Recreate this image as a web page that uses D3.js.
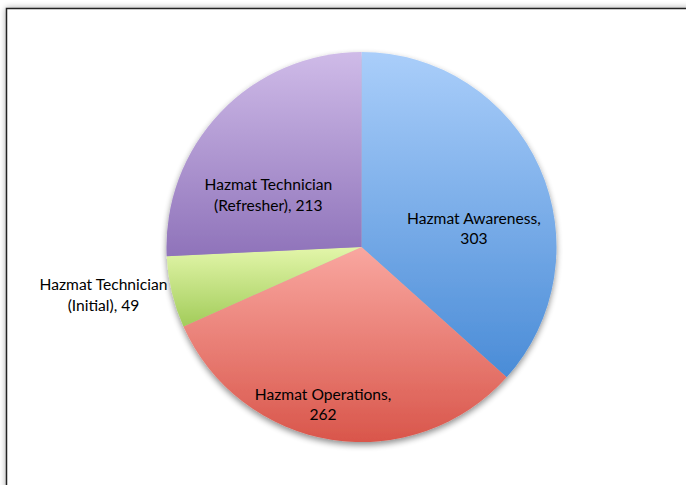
<!DOCTYPE html>
<html>
<head>
<meta charset="utf-8">
<script src="https://cdn.jsdelivr.net/npm/d3@7"></script>
<style>
  html, body { margin: 0; padding: 0; background: #fff; }
  svg { display: block; }
</style>
</head>
<body>
<div id="chart"></div>
<script>
const categories = ['Hazmat Awareness', 'Hazmat Operations', 'Hazmat Technician (Initial)', 'Hazmat Technician (Refresher)']
const values = [303, 262, 49, 213]
const labelLines = [
    ['Hazmat Awareness,', '303'],
    ['Hazmat Operations,', '262'],
    ['Hazmat Technician', '(Initial), 49'],
    ['Hazmat Technician', '(Refresher), 213'],
]

const WIDTH = 686
const HEIGHT = 485
const CX = 361.5
const CY = 247
const RADIUS = 195
const FONT = 'Lato, "Open Sans", sans-serif'
// light (top) -> dark (bottom) for each slice
const GRADIENTS = [
    ['#aacefa', '#4a8cd7'],
    ['#f9a7a0', '#d9564b'],
    ['#e3f6aa', '#a2cc5a'],
    ['#cfbbe8', '#8f73ba'],
]
// label placement: radius along mid-angle, then nudge
const LABEL_POS = [
    { r: 0.62, dx: 2, dy: 31 },
    { r: 0.84, dx: -13, dy: -4 },
    { r: 1.36, dx: 0, dy: -13 },
    { r: 0.66, dx: 0, dy: 37 },
]

const svg = d3.select('#chart')
    .append('svg')
    .attr('width', WIDTH)
    .attr('height', HEIGHT)

const defs = svg.append('defs')

const frameShadow = defs.append('filter')
    .attr('id', 'frameShadow')
    .attr('x', '-5%').attr('y', '-5%')
    .attr('width', '110%').attr('height', '110%')
frameShadow.append('feGaussianBlur')
    .attr('in', 'SourceAlpha')
    .attr('stdDeviation', 3)
frameShadow.append('feComponentTransfer')
    .append('feFuncA').attr('type', 'linear').attr('slope', 0.35)
const fm = frameShadow.append('feMerge')
fm.append('feMergeNode')
fm.append('feMergeNode').attr('in', 'SourceGraphic')

const pieShadow = defs.append('filter')
    .attr('id', 'pieShadow')
    .attr('x', '-10%').attr('y', '-10%')
    .attr('width', '120%').attr('height', '125%')
pieShadow.append('feGaussianBlur')
    .attr('in', 'SourceAlpha')
    .attr('stdDeviation', 3)
pieShadow.append('feOffset').attr('dx', 0).attr('dy', 3)
pieShadow.append('feComponentTransfer')
    .append('feFuncA').attr('type', 'linear').attr('slope', 0.45)
const pm = pieShadow.append('feMerge')
pm.append('feMergeNode')
pm.append('feMergeNode').attr('in', 'SourceGraphic')

GRADIENTS.forEach((g, i) => {
    const lg = defs.append('linearGradient')
        .attr('id', `grad${i}`)
        .attr('x1', 0).attr('y1', 0)
        .attr('x2', 0).attr('y2', 1)
    lg.append('stop').attr('offset', '0%').attr('stop-color', g[0])
    lg.append('stop').attr('offset', '100%').attr('stop-color', g[1])
})

/**
 * Frame
 */
svg.append('rect')
    .attr('x', 6.5)
    .attr('y', 8.5)
    .attr('width', WIDTH + 20)
    .attr('height', HEIGHT + 20)
    .attr('fill', '#fff')
    .attr('stroke', '#222')
    .attr('stroke-width', 1.5)
    .attr('filter', 'url(#frameShadow)')

/**
 * Pie
 */
const pie = d3.pie().sort(null).value(d => d)
const arcs = pie(values)
const arc = d3.arc().innerRadius(0).outerRadius(RADIUS)

const center = svg.append('g')
    .attr('transform', `translate(${CX}, ${CY})`)

center.append('g')
    .attr('filter', 'url(#pieShadow)')
    .selectAll('path')
    .data(arcs)
    .enter()
    .append('path')
    .attr('d', arc)
    .attr('fill', (d, i) => `url(#grad${i})`)

/**
 * Labels
 */
const labels = center.selectAll('text.label')
    .data(arcs)
    .enter()
    .append('text')
    .classed('label', true)
    .attr('text-anchor', 'middle')
    .attr('font-family', FONT)
    .attr('font-size', '15.6px')
    .attr('fill', '#000')
    .attr('transform', (d, i) => {
        const p = LABEL_POS[i]
        const la = d3.arc().innerRadius(RADIUS * p.r).outerRadius(RADIUS * p.r)
        const [x, y] = la.centroid(d)
        return `translate(${x + p.dx}, ${y + p.dy})`
    })

labels.selectAll('tspan')
    .data((d, i) => labelLines[i])
    .enter()
    .append('tspan')
    .attr('x', 0)
    .attr('y', (d, i) => i * 20.5 - 5)
    .text(d => d)
</script>
</body>
</html>
